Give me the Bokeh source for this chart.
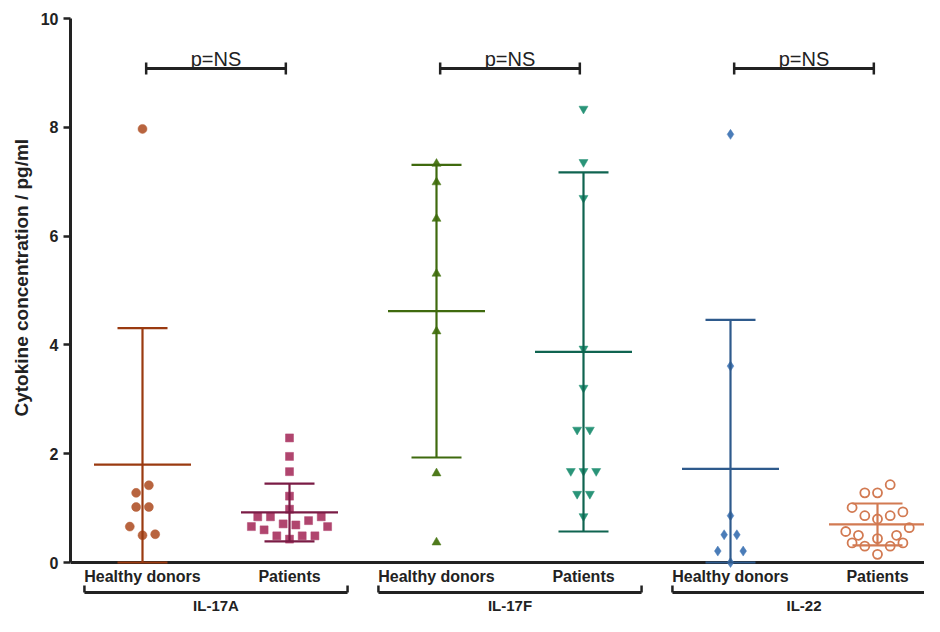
import math
from bokeh.plotting import figure
from bokeh.models import Range1d, LinearAxis, FixedTicker, Span, Title, ColumnDataSource
from bokeh.core.properties import value
from bokeh.embed import file_html
from bokeh.resources import INLINE

# ---------------- data ----------------
categories = ["Healthy donors", "Patients", "Healthy donors", "Patients", "Healthy donors", "Patients"]
groups = ["IL-17A", "IL-17F", "IL-22"]
pvalue_text = ["p=NS", "p=NS", "p=NS"]
y_ticks = [0, 2, 4, 6, 8, 10]
y_title = "Cytokine concentration / pg/ml"

hd_17a = [7.97, 1.42, 1.28, 1.02, 1.02, 0.66, 0.50, 0.52]
pt_17a = [2.29, 1.95, 1.67, 1.22, 0.98, 0.84, 0.84, 0.84, 0.66, 0.66, 0.71, 0.69, 0.77, 0.60, 0.49, 0.49, 0.49, 0.43]
hd_17f = [7.33, 6.99, 6.32, 5.31, 4.25, 1.64, 0.37]
pt_17f = [8.34, 7.36, 6.70, 3.93, 3.21, 2.44, 2.44, 1.68, 1.68, 1.68, 1.26, 1.26, 0.85]
hd_22 = [7.87, 3.61, 0.86, 0.51, 0.51, 0.21, 0.21, 0.0]
pt_22 = [1.43, 1.28, 1.28, 1.01, 0.93, 0.86, 0.86, 0.80, 0.64, 0.57, 0.50, 0.50, 0.44, 0.36, 0.36, 0.30, 0.30, 0.15]

# swarm slot of each point (half marker widths left/right of the column)
hd_17a_slot = [0, 1, -1, -1, 1, -2, 0, 2]
pt_17a_slot = [0, 0, 0, 0, 0, -5, -3, 5, -6, 6, -1, 1, 3, -4, -2, 2, 4, 0]
hd_17f_slot = [0, 0, 0, 0, 0, 0, 0]
pt_17f_slot = [0, 0, 0, 0, 0, -1, 1, -2, 0, 2, -1, 1, 0]
hd_22_slot = [0, 0, 0, -1, 1, -2, 2, 0]
pt_22_slot = [2, -2, 0, -4, 4, -2, 2, 0, 5, -5, -3, 3, 0, -4, 4, -2, 2, 0]

means = [1.80, 0.92, 4.62, 3.87, 1.72, 0.70]
sds = [2.51, 0.53, 2.69, 3.30, 2.74, 0.385]

series = [hd_17a, pt_17a, hd_17f, pt_17f, hd_22, pt_22]
slots = [hd_17a_slot, pt_17a_slot, hd_17f_slot, pt_17f_slot, hd_22_slot, pt_22_slot]

# ---------------- styles ----------------
markers = ["circle", "square", "triangle", "inverted_triangle", "diamond", "circle"]
marker_sizes = [9, 8, 9, 9, 10, 9]
marker_colors = ["#B8643F", "#B0456E", "#4F7A1C", "#2A9478", "#4A7CB8", "#D27A52"]
line_colors = ["#9A3A10", "#7A1B45", "#3F6A0E", "#0F6450", "#2E5A8C", "#D27A52"]
hollow = [False, False, False, False, False, True]
AX = "#222222"
FONT = "Liberation Sans"

PX_PER_X = 147.0     # pixels per category step
PX_PER_Y = 54.4      # pixels per pg/ml
slot_w = 6.35 / PX_PER_X

W, H = 924, 616
left_border = 70
zero_px = 562        # pixel row of y = 0
x0 = 1 - (142 - left_border) / PX_PER_X
x1 = x0 + (W - left_border) / PX_PER_X
y1 = zero_px / PX_PER_Y
y0 = -(H - zero_px) / PX_PER_Y

p = figure(width=W, height=H, output_backend="svg", toolbar_location=None,
           x_range=Range1d(x0, x1), y_range=Range1d(y0, y1),
           x_axis_type=None, y_axis_type=None,
           min_border_left=left_border, min_border_right=0,
           min_border_top=0, min_border_bottom=0)
p.outline_line_color = None
p.xgrid.visible = False
p.ygrid.visible = False
p.background_fill_color = "white"

yaxis = LinearAxis(ticker=FixedTicker(ticks=y_ticks), bounds=(0, 10))
yaxis.axis_line_width = 3
yaxis.axis_line_color = AX
yaxis.major_tick_line_width = 2.5
yaxis.major_tick_line_color = AX
yaxis.major_tick_out = 7
yaxis.major_tick_in = 0
yaxis.minor_tick_line_color = None
yaxis.major_label_text_font = FONT
yaxis.major_label_text_font_style = "bold"
yaxis.major_label_text_font_size = "16px"
yaxis.major_label_text_color = AX
yaxis.major_label_standoff = 5
p.add_layout(yaxis, "left")

p.add_layout(Title(text=y_title, align="left", offset=200, text_font=FONT, text_font_style="bold",
                   text_font_size="19px", text_color=AX, standoff=11), "left")

p.add_layout(Span(location=0, dimension="width", line_color=AX, line_width=3, level="underlay"))

# points
for i, (vals, sl) in enumerate(zip(series, slots)):
    xs = [i + 1 + s * slot_w for s in sl]
    src = ColumnDataSource(dict(x=xs, y=vals))
    if hollow[i]:
        p.scatter("x", "y", source=src, marker=markers[i], size=marker_sizes[i],
                  fill_color=None, line_color=marker_colors[i], line_width=1.8)
    else:
        p.scatter("x", "y", source=src, marker=markers[i], size=marker_sizes[i],
                  fill_color=marker_colors[i], line_color=marker_colors[i], line_width=0.5)

# mean +/- SD
mean_half = 48.5 / PX_PER_X
cap_half = 25.0 / PX_PER_X
for i, (m, s) in enumerate(zip(means, sds)):
    c = i + 1
    lo = max(m - s, 0)
    hi = m + s
    col = line_colors[i]
    p.segment(x0=[c], y0=[lo], x1=[c], y1=[hi], line_color=col, line_width=2.2)
    p.segment(x0=[c - mean_half], y0=[m], x1=[c + mean_half], y1=[m], line_color=col, line_width=2.2)
    p.segment(x0=[c - cap_half, c - cap_half], y0=[hi, lo], x1=[c + cap_half, c + cap_half], y1=[hi, lo],
              line_color=col, line_width=2.2)

# category labels
p.text(x=[i + 1 for i in range(len(categories))], y=[-14 / PX_PER_Y] * len(categories), text=categories,
       text_font=value(FONT), text_font_style="bold", text_font_size="16px",
       text_align="center", text_baseline="middle", text_color=AX)

# significance brackets
br_y = (zero_px - 68) / PX_PER_Y
br_half = 0.475
tick_h = 6 / PX_PER_Y
gc = [2 * g + 1.5 for g in range(len(groups))]
p.segment(x0=[c - br_half for c in gc], y0=[br_y] * 3, x1=[c + br_half for c in gc], y1=[br_y] * 3,
          line_color=AX, line_width=3)
p.segment(x0=[c - br_half for c in gc] + [c + br_half for c in gc], y0=[br_y - tick_h] * 6,
          x1=[c - br_half for c in gc] + [c + br_half for c in gc], y1=[br_y + tick_h] * 6,
          line_color=AX, line_width=2.5)
p.text(x=gc, y=[br_y + 10 / PX_PER_Y] * 3, text=pvalue_text, text_font=value(FONT),
       text_font_size="20px", text_align="center", text_baseline="alphabetic", text_color=AX)

# group brackets below axis
gb_y = -30 / PX_PER_Y
gb_half = 0.895
gtick = 7 / PX_PER_Y
p.segment(x0=[c - gb_half for c in gc], y0=[gb_y] * 3, x1=[c + gb_half for c in gc], y1=[gb_y] * 3,
          line_color=AX, line_width=3)
p.segment(x0=[c - gb_half for c in gc] + [c + gb_half for c in gc], y0=[gb_y] * 6,
          x1=[c - gb_half for c in gc] + [c + gb_half for c in gc], y1=[gb_y + gtick] * 6,
          line_color=AX, line_width=2.5)
p.text(x=gc, y=[-43 / PX_PER_Y] * 3, text=groups, text_font=value(FONT), text_font_style="bold",
       text_font_size="15px", text_align="center", text_baseline="middle", text_color=AX)

open("out.html", "w").write(file_html(p, INLINE))
